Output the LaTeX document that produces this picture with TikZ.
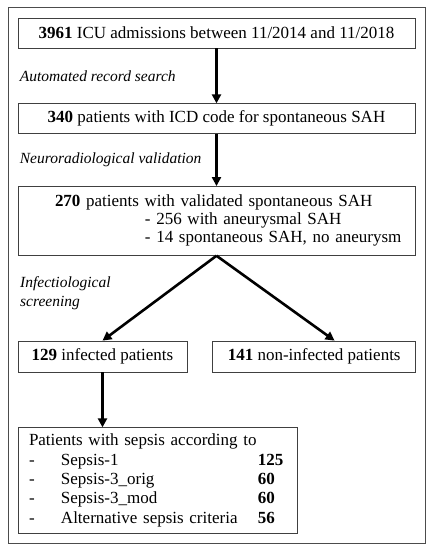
\documentclass[tikz,border=0pt]{standalone}
\usepackage{fontspec}
\setmainfont{Liberation Serif}
\usepackage{tikz}
\usetikzlibrary{arrows.meta,positioning,calc}

\begin{document}
\begin{tikzpicture}[
   x=1pt, y=-1pt,
   >={Triangle[width=9pt,length=9pt]},
   box/.style={draw=black!75, line width=0.7pt, align=center, inner sep=4pt,
               font=\fontsize{17}{18}\selectfont},
   flow/.style={->, line width=2.6pt},
   note/.style={anchor=west, align=left, inner sep=0pt,
                font=\fontsize{15.5}{19}\selectfont\itshape},
]
\useasboundingbox (0,0) rectangle (431,550);
% frame
\draw[black!70, line width=0.8pt] (8,7) rectangle (425,543);
% main chain
\node[box, minimum width=397pt, minimum height=30pt] (adm) at (216.5,33)
  {\textbf{3961} ICU admissions between 11/2014 and 11/2018};
\node[box, minimum width=397pt, minimum height=30pt, below=55pt of adm] (icd)
  {\textbf{340} patients with ICD code for spontaneous SAH};
\node[box, text width=389pt, minimum height=69pt, align=left, below=52pt of icd] (sah)
  {\hspace*{33pt}\textbf{270} patients with validated spontaneous SAH\\
   \hspace*{123pt}- 256 with aneurysmal SAH\\
   \hspace*{123pt}- 14 spontaneous SAH, no aneurysm};
% split
\node[box, minimum width=169pt, minimum height=31pt] (inf) at (102.5,356.5)
  {\textbf{129} infected patients};
\node[box, minimum width=203pt, minimum height=31pt, right=25pt of inf] (noinf)
  {\textbf{141} non-infected patients};
% sepsis
\node[box, text width=257pt, inner xsep=11pt, minimum height=106pt, align=left,
      font=\fontsize{17}{19.3}\selectfont,
      below=55pt of inf.south west, anchor=north west] (sep)
  {\setlength\tabcolsep{0pt}%
   \begin{tabular}{p{32pt}p{197pt}l}
   \multicolumn{3}{l}{Patients with sepsis according to}\\
   - & Sepsis-1 & \textbf{125}\\
   - & Sepsis-3\_orig & \textbf{60}\\
   - & Sepsis-3\_mod & \textbf{60}\\
   - & Alternative sepsis criteria & \textbf{56}
   \end{tabular}};
% labels
\node[note, xshift=2pt] (auto) at ($(adm.south west)!0.5!(icd.north west)$)
  {Automated record search};
\node[note, xshift=2pt] (neuro) at ($(icd.south west)!0.5!(sah.north west)$)
  {Neuroradiological validation};
\node[note] (screen) at (20,293) {Infectiological\\screening};
% arrows
\draw[flow] (adm) -- (icd);
\draw[flow] (icd) -- (sah);
\draw[flow] (sah.south) -- (inf.north);
\draw[flow] (sah.south) -- ($(noinf.north west)!0.6!(noinf.north east)$);
\draw[flow] (inf.south) -- (inf.south |- sep.north);
\end{tikzpicture}
\end{document}
